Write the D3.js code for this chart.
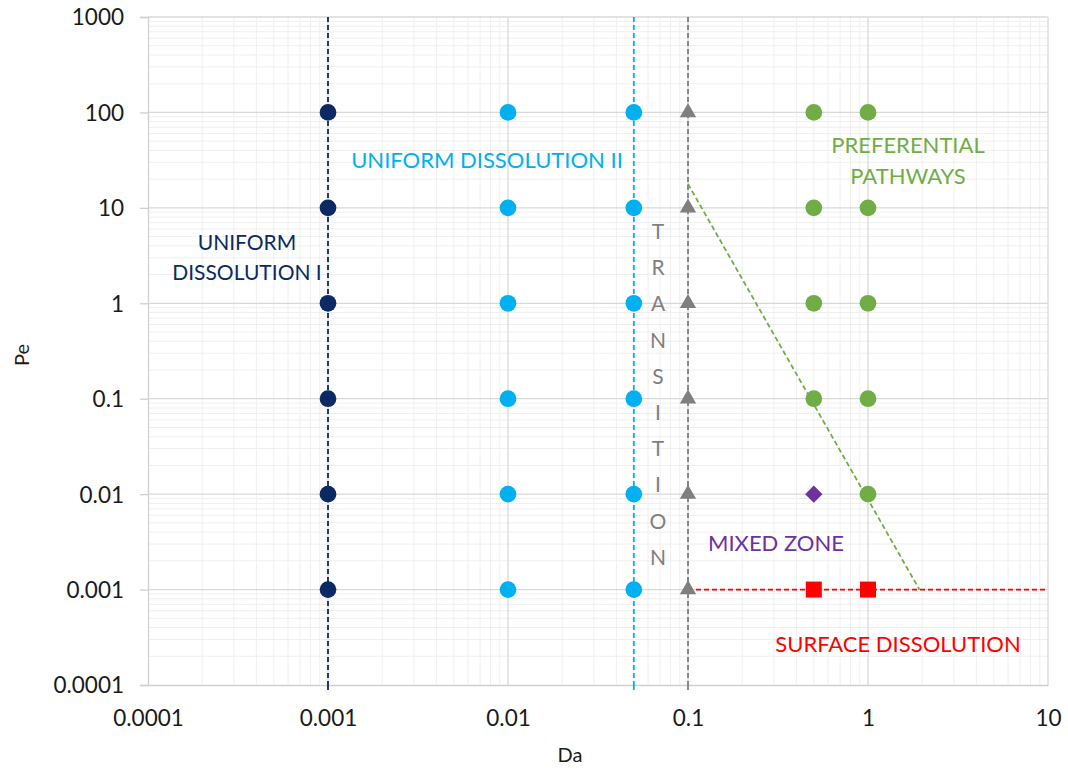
<!DOCTYPE html>
<html>
<head>
<meta charset="utf-8">
<script src="https://cdn.jsdelivr.net/npm/d3@7"></script>
<style>
  html, body { margin: 0; padding: 0; background: #fff; }
  svg { display: block; font-family: Lato, "Open Sans", sans-serif; }
</style>
</head>
<body>
<svg id="chart" width="1068" height="769"></svg>
<script>
// Damköhler / Péclet regime map data
const xTicks = [0.0001, 0.001, 0.01, 0.1, 1, 10];
const yTicks = [0.0001, 0.001, 0.01, 0.1, 1, 10, 100, 1000];
const xTickLabels = ["0.0001", "0.001", "0.01", "0.1", "1", "10"];
const yTickLabels = ["0.0001", "0.001", "0.01", "0.1", "1", "10", "100", "1000"];

const peLevels = [100, 10, 1, 0.1, 0.01, 0.001];

// Simulated cases by regime: [Da, Pe]
const uniformI = peLevels.map(pe => [0.001, pe]);
const uniformII = [0.01, 0.05].flatMap(da => peLevels.map(pe => [da, pe]));
const transition = peLevels.map(pe => [0.1, pe]);
const preferential = [
  [0.5, 100], [0.5, 10], [0.5, 1], [0.5, 0.1],
  [1, 100], [1, 10], [1, 1], [1, 0.1], [1, 0.01]
];
const mixed = [[0.5, 0.01]];
const surface = [[0.5, 0.001], [1, 0.001]];

// Regime boundaries
const boundUniformI = [[0.001, 1000], [0.001, 0.0001]];
const boundUniformII = [[0.05, 1000], [0.05, 0.0001]];
const boundTransition = [[0.1, 1000], [0.1, 0.0001]];
const boundPreferential = [[0.1, 17.8], [1.93, 0.001]];
const boundSurface = [[0.1, 0.001], [10, 0.001]];

const colors = {
  navy: "#0b2a63",
  sky: "#00b0f0",
  gray: "#7f7f7f",
  green: "#70ad47",
  purple: "#7030a0",
  red: "#ff0000"
};

const svg = d3.select("#chart");
const m = { left: 148, right: 1048, top: 17, bottom: 685 };

const x = d3.scaleLog().domain([0.0001, 10]).range([m.left, m.right]);
const y = d3.scaleLog().domain([0.0001, 1000]).range([m.bottom, m.top]);

// minor grid values (2..9 per decade)
function minors(lo, hi) {
  const out = [];
  for (let e = Math.log10(lo); e < Math.log10(hi); e++) {
    for (let k = 2; k <= 9; k++) out.push(k * Math.pow(10, e));
  }
  return out;
}

const grid = svg.append("g");
grid.selectAll(".vminor").data(minors(0.0001, 10)).join("line")
  .attr("x1", d => x(d)).attr("x2", d => x(d))
  .attr("y1", m.top).attr("y2", m.bottom)
  .attr("stroke", "#efefef").attr("stroke-width", 1);
grid.selectAll(".hminor").data(minors(0.0001, 1000)).join("line")
  .attr("y1", d => y(d)).attr("y2", d => y(d))
  .attr("x1", m.left).attr("x2", m.right)
  .attr("stroke", "#efefef").attr("stroke-width", 1);
grid.selectAll(".vmajor").data(xTicks.slice(1)).join("line")
  .attr("x1", d => x(d)).attr("x2", d => x(d))
  .attr("y1", m.top).attr("y2", m.bottom)
  .attr("stroke", "#d9d9d9").attr("stroke-width", 1.3);
grid.selectAll(".hmajor").data(yTicks.slice(1)).join("line")
  .attr("y1", d => y(d)).attr("y2", d => y(d))
  .attr("x1", m.left).attr("x2", m.right)
  .attr("stroke", "#d9d9d9").attr("stroke-width", 1.3);

// Axes
const yAxis = d3.axisLeft(y).tickValues(yTicks)
  .tickFormat((d, i) => yTickLabels[i]).tickSize(8).tickPadding(16);
const gy = svg.append("g").attr("transform", `translate(${m.left},0)`).call(yAxis);
gy.select(".domain").attr("stroke", "#d0d0d0").attr("stroke-width", 1.3);
gy.selectAll(".tick line").attr("stroke", "#d0d0d0").attr("stroke-width", 1.3);
gy.selectAll("text").attr("font-size", 22.5).attr("fill", "#1a1a1a")
  .attr("font-family", "Lato, sans-serif").attr("dy", "0.35em");

const xAxis = d3.axisBottom(x).tickValues(xTicks)
  .tickFormat((d, i) => xTickLabels[i]).tickSize(0).tickPadding(25);
const gx = svg.append("g").attr("transform", `translate(0,${m.bottom})`).call(xAxis);
gx.select(".domain").attr("stroke", "#d0d0d0").attr("stroke-width", 1.3);
gx.selectAll("text").attr("font-size", 22.5).attr("fill", "#1a1a1a")
  .attr("font-family", "Lato, sans-serif");

// Axis titles
svg.append("text").attr("x", 570).attr("y", 762).attr("text-anchor", "middle")
  .attr("font-size", 20).attr("fill", "#1a1a1a").text("Da");
svg.append("text").attr("transform", "translate(29,355) rotate(-90)")
  .attr("text-anchor", "middle").attr("font-size", 20).attr("fill", "#1a1a1a").text("Pe");

// Boundary lines
const line = d3.line().x(d => x(d[0])).y(d => y(d[1]));
function boundary(data, color) {
  svg.append("path").datum(data).attr("d", line)
    .attr("fill", "none").attr("stroke", color).attr("stroke-width", 1.8)
    .attr("stroke-dasharray", "5,3");
}
boundary(boundUniformI, colors.navy);
boundary(boundUniformII, colors.sky);
boundary(boundTransition, colors.gray);
boundary(boundPreferential, colors.green);
boundary(boundSurface, colors.red);

// extend the vertical boundaries slightly below the axis
[[boundUniformI, colors.navy], [boundUniformII, colors.sky], [boundTransition, colors.gray]]
  .forEach(([b, c]) => {
    svg.append("line").attr("x1", x(b[0][0])).attr("x2", x(b[0][0]))
      .attr("y1", m.bottom).attr("y2", m.bottom + 7)
      .attr("stroke", c).attr("stroke-width", 1.8).attr("stroke-dasharray", "5,3");
  });

// Markers
function points(data, shape, size, color, rotate) {
  svg.append("g").selectAll("path").data(data).join("path")
    .attr("transform", d => `translate(${x(d[0])},${y(d[1])}) rotate(${rotate || 0})`)
    .attr("d", d3.symbol().type(shape).size(size))
    .attr("fill", color);
}
points(uniformI, d3.symbolCircle, 220, colors.navy);
points(uniformII, d3.symbolCircle, 220, colors.sky);
points(transition, d3.symbolTriangle, 115, colors.gray);
points(preferential, d3.symbolCircle, 220, colors.green);
points(mixed, d3.symbolSquare, 150, colors.purple, 45);
points(surface, d3.symbolSquare, 256, colors.red);

// Regime labels
function label(lines, cx, cy, color, lh, fs) {
  const t = svg.append("text").attr("text-anchor", "middle")
    .attr("font-size", fs || 22).attr("fill", color);
  lines.forEach((s, i) => t.append("tspan").attr("x", cx).attr("y", cy + i * lh).text(s));
}
label(["UNIFORM", "DISSOLUTION I"], 247, 250, colors.navy, 30, 21);
label(["UNIFORM DISSOLUTION II"], 487, 168, colors.sky, 0);
label(["PREFERENTIAL", "PATHWAYS"], 908, 153, colors.green, 31);
label(["MIXED ZONE"], 776, 551, colors.purple, 0);
label(["SURFACE DISSOLUTION"], 898, 652, colors.red, 0);

// Vertical "TRANSITION" label
const tr = svg.append("text").attr("text-anchor", "middle")
  .attr("font-size", 21).attr("fill", colors.gray);
"TRANSITION".split("").forEach((ch, i) => {
  tr.append("tspan").attr("x", 658).attr("y", 239 + i * 36.2).text(ch);
});
</script>
</body>
</html>
